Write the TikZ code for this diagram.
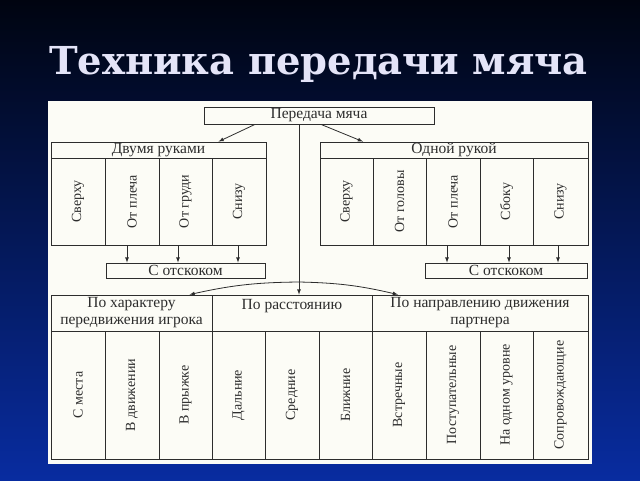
\documentclass[tikz,border=0pt]{standalone}
\usepackage{fontspec}
\setmainfont{Liberation Serif}
\newfontfamily\titlefont{DejaVu Serif}
\usepackage{tikz}
\usetikzlibrary{positioning}
\definecolor{titlecol}{RGB}{228,228,248}
\definecolor{inkgray}{RGB}{45,45,45}
\definecolor{paper}{RGB}{252,252,246}
\definecolor{bgtop}{RGB}{0,4,16}
\definecolor{bgmid}{RGB}{0,32,115}
\definecolor{bgbot}{RGB}{8,44,160}

\begin{document}
\begin{tikzpicture}[x=1pt, y=-1pt,
    box/.style={draw=inkgray, line width=0.8pt, inner sep=0pt, text=inkgray, align=center, font=\fontsize{15.5}{17}\selectfont},
    col/.style={box, font=\fontsize{14}{16}\selectfont},
    arr/.style={draw=inkgray, line width=0.8pt, ->, >=latex}]

    % 1. Slide background, sheet and title
    \fill[top color=bgtop, middle color=bgmid, bottom color=bgbot] (0,0) rectangle (640,480);
    \useasboundingbox (0,0) rectangle (640,480);
    \fill[paper] (48,101) rectangle (592,464);
    \node[anchor=base, text=titlecol, font=\titlefont\fontsize{38.5}{46}\bfseries\selectfont] (title) at (318.5,74) {Техника передачи мяча};

    % 2. Root box
    \node[box, minimum width=230, minimum height=17] (pm) at (319,115.5) {Передача мяча};

    % 3. Two hands group
    \node[box, minimum width=215, minimum height=16] (dv) at (158.5,150) {Двумя руками};
    \node[col, minimum width=54, minimum height=87] (dv1) at (78,201.5) {\rotatebox{90}{Сверху}};
    \node[col, minimum width=54, minimum height=87] (dv2) at (132,201.5) {\rotatebox{90}{От плеча}};
    \node[col, minimum width=53, minimum height=87] (dv3) at (185.5,201.5) {\rotatebox{90}{От груди}};
    \node[col, minimum width=54, minimum height=87] (dv4) at (239,201.5) {\rotatebox{90}{Снизу}};
    \node[box, minimum width=159, minimum height=15] (lsk) at (185.5,270.5) {С отскоком};

    % 4. One hand group
    \node[box, minimum width=268, minimum height=16] (od) at (454,150) {Одной рукой};
    \node[col, minimum width=53, minimum height=87] (od1) at (346.5,201.5) {\rotatebox{90}{Сверху}};
    \node[col, minimum width=53, minimum height=87] (od2) at (399.5,201.5) {\rotatebox{90}{От головы}};
    \node[col, minimum width=54, minimum height=87] (od3) at (453,201.5) {\rotatebox{90}{От плеча}};
    \node[col, minimum width=53, minimum height=87] (od4) at (506.5,201.5) {\rotatebox{90}{Сбоку}};
    \node[col, minimum width=55, minimum height=87] (od5) at (560.5,201.5) {\rotatebox{90}{Снизу}};
    \node[box, minimum width=162, minimum height=15] (rsk) at (506,270.5) {С отскоком};

    % 5. Lower table: headers
    \node[box, minimum width=161, minimum height=36] (hA) at (131.5,313) {По характеру\\передвижения игрока};
    \node[box, minimum width=160, minimum height=36] (hB) at (292,313) {По расстоянию\\~};
    \node[box, minimum width=216, minimum height=36] (hC) at (480,313) {По направлению движения\\партнера};

    % 6. Lower table: columns
    \node[col, minimum width=54, minimum height=128] (c1) at (78,395) {\rotatebox{90}{С места}};
    \node[col, minimum width=54, minimum height=128] (c2) at (132,395) {\rotatebox{90}{В движении}};
    \node[col, minimum width=53, minimum height=128] (c3) at (185.5,395) {\rotatebox{90}{В прыжке}};
    \node[col, minimum width=53, minimum height=128] (c4) at (238.5,395) {\rotatebox{90}{Дальние}};
    \node[col, minimum width=54, minimum height=128] (c5) at (292,395) {\rotatebox{90}{Средние}};
    \node[col, minimum width=53, minimum height=128] (c6) at (345.5,395) {\rotatebox{90}{Ближние}};
    \node[col, minimum width=54, minimum height=128] (c7) at (399,395) {\rotatebox{90}{Встречные}};
    \node[col, minimum width=54, minimum height=128] (c8) at (453,395) {\rotatebox{90}{Поступательные}};
    \node[col, minimum width=53, minimum height=128] (c9) at (506.5,395) {\rotatebox{90}{На одном уровне}};
    \node[col, minimum width=55, minimum height=128] (c10) at (560.5,395) {\rotatebox{90}{Сопровождающие}};

    % 7. Connectors
    \draw[arr] ([xshift=-64pt]pm.south) -- ([xshift=60pt]dv.north);
    \draw[arr] ([xshift=2pt]pm.south) -- ([xshift=-91pt]od.north);
    \coordinate (split) at (299,282);
    \draw[arr] (pm.south -| split) -- (hB.north -| split);
    \draw[arr] (split) to[bend right=6] ([xshift=58pt]hA.north);
    \draw[arr] (split) to[bend left=6] ([xshift=-82pt]hC.north);

    % bounce arrows, two hands
    \coordinate (l1) at (127,245);
    \coordinate (l2) at (178,245);
    \coordinate (l3) at (238,245);
    \draw[arr] (l1) -- (l1 |- lsk.north);
    \draw[arr] (l2) -- (l2 |- lsk.north);
    \draw[arr] (l3) -- (l3 |- lsk.north);
    % bounce arrows, one hand
    \coordinate (r1) at (447,245);
    \coordinate (r2) at (509,245);
    \coordinate (r3) at (558,245);
    \draw[arr] (r1) -- (r1 |- rsk.north);
    \draw[arr] (r2) -- (r2 |- rsk.north);
    \draw[arr] (r3) -- (r3 |- rsk.north);

\end{tikzpicture}
\end{document}
